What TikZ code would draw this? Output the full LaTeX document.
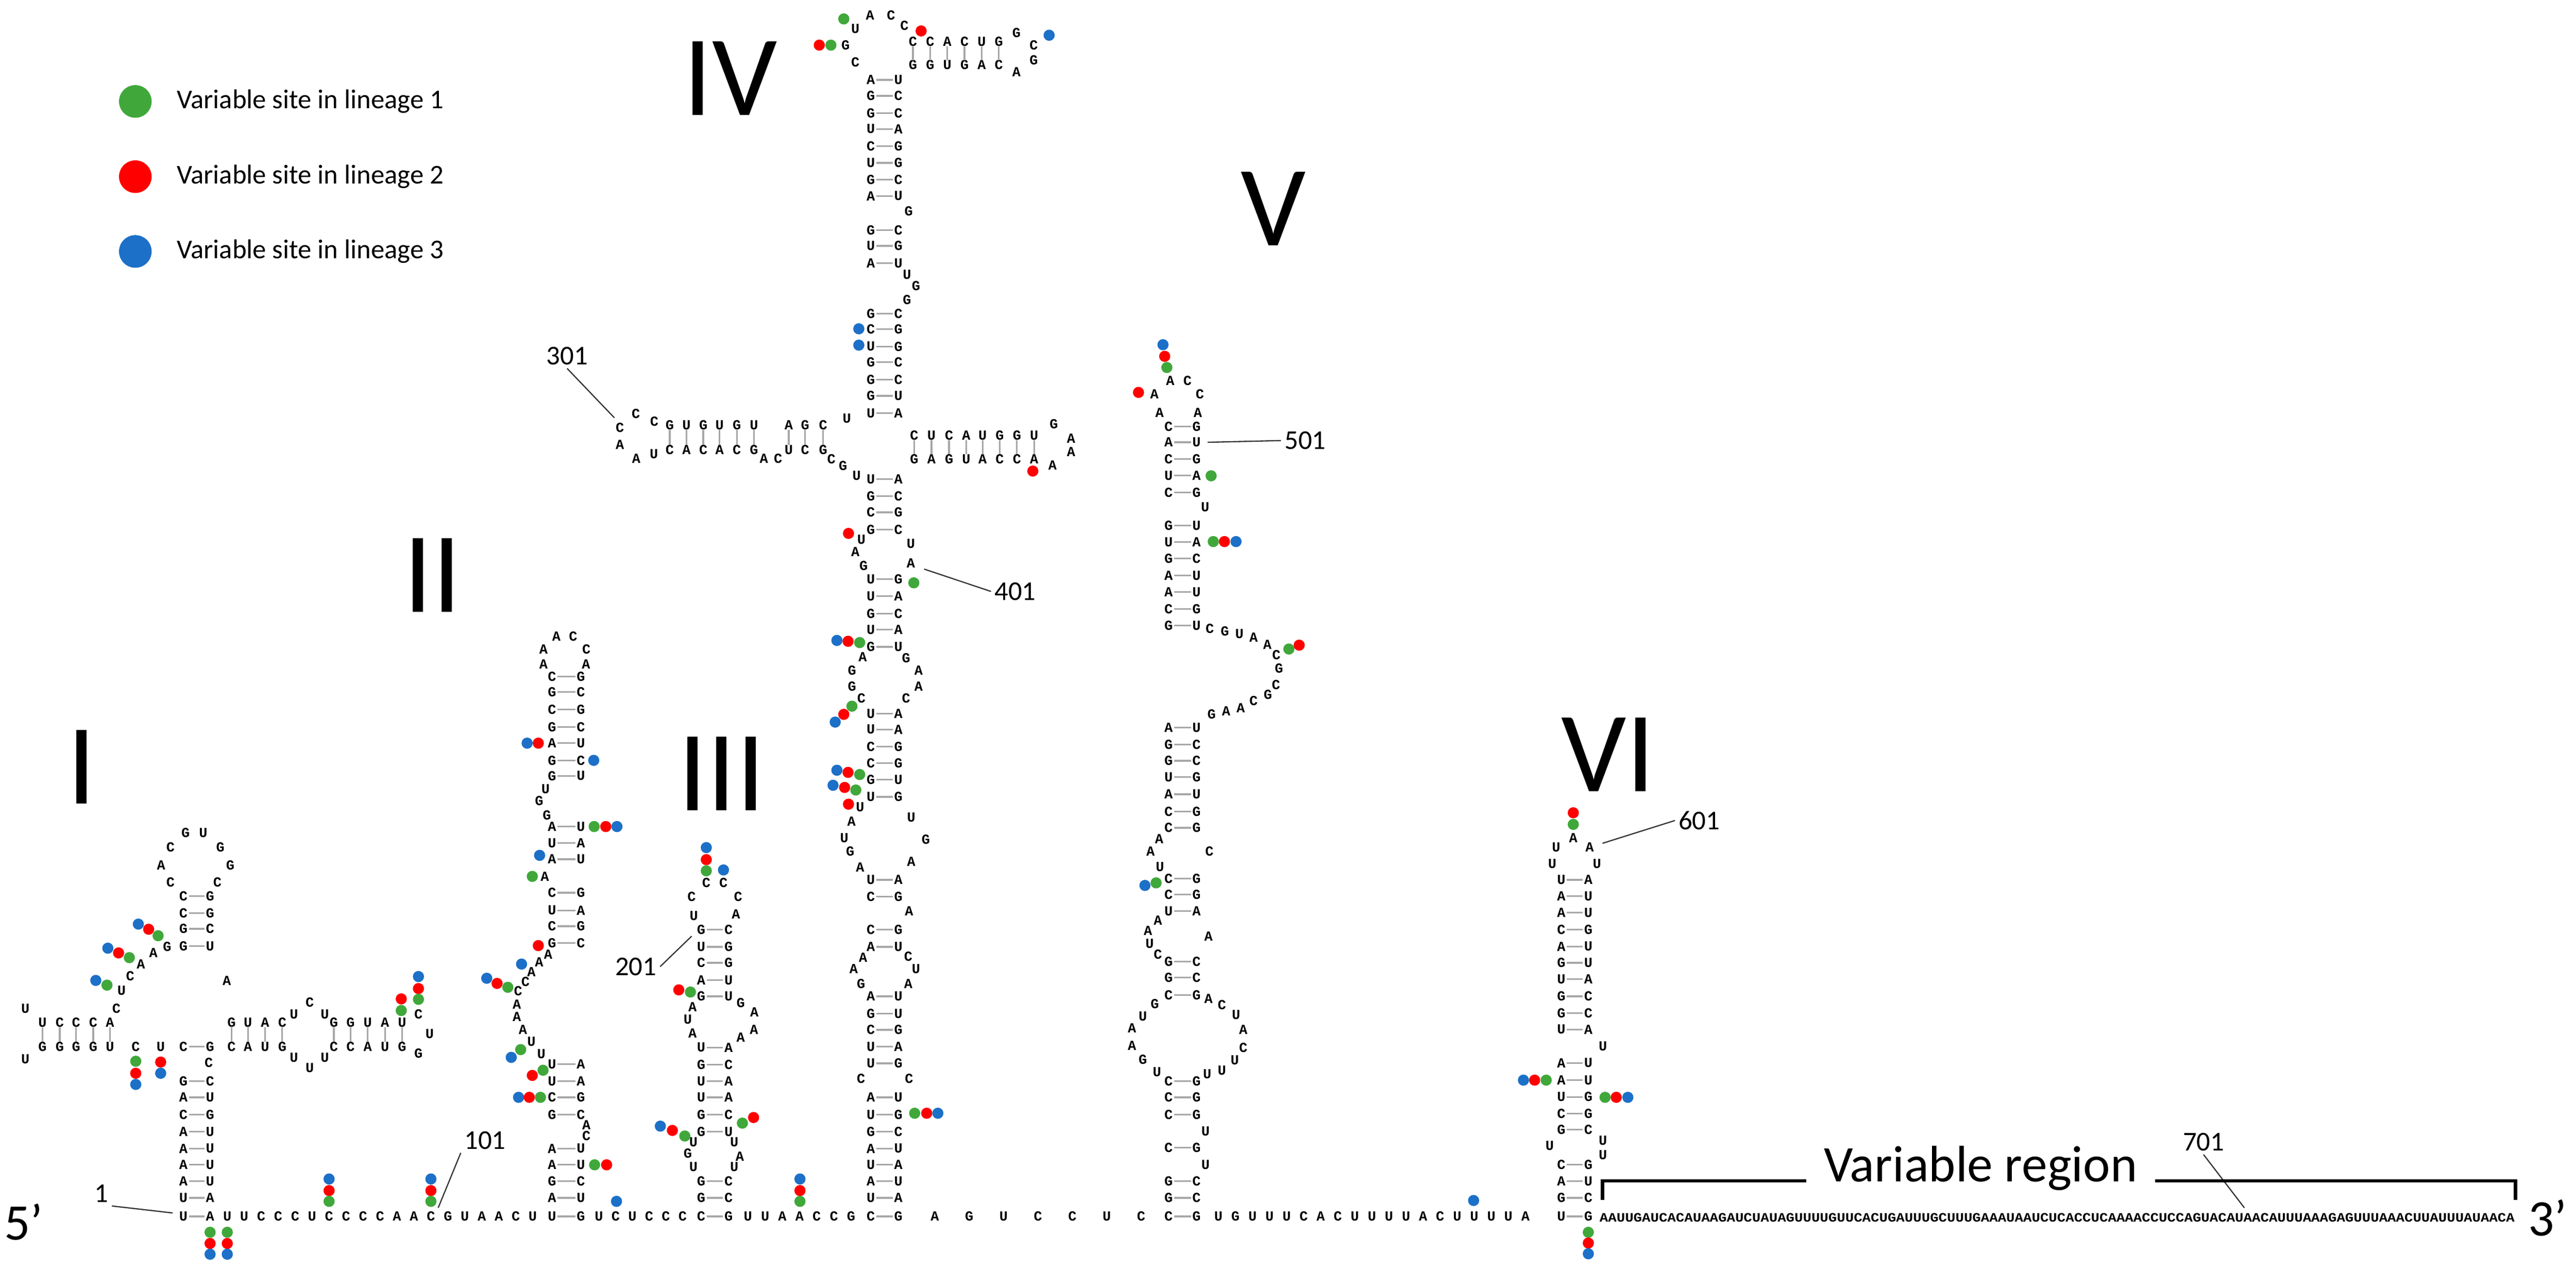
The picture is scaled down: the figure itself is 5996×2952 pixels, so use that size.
\documentclass[tikz,border=0pt]{standalone}
\usepackage{fontspec}
\setmainfont{Carlito}
\newfontfamily\ntfont{Liberation Mono}
\definecolor{vgreen}{RGB}{64,168,58}
\definecolor{vred}{RGB}{255,0,0}
\definecolor{vblue}{RGB}{28,112,200}
% base pair in a stem, left/right letters with a dash
\newcommand\bp[5]{\node[nt] at (#1,#3) {#4}; \node[nt] at (#2,#3) {#5};
  \draw[pr] ({#1+13},#3) -- ({#2-13},#3);}
% base pair in a side branch, top/bottom letters with a bar
\newcommand\vp[5]{\node[nt] at (#1,#2) {#4}; \node[nt] at (#1,#3) {#5};
  \draw[pr] (#1,{#2+11}) -- (#1,{#3-11});}
% run of unpaired letters on the backbone
\newcommand\run[4]{\foreach \l [count=\i from 0] in {#4} {\node[nt] at ({#1+#2*\i},#3) {\l};}}
\begin{document}
\begin{tikzpicture}[
    x=0.005cm, y=-0.005cm,
    nt/.style={font=\ntfont\bfseries\fontsize{4.6}{4.6}\selectfont, inner sep=0pt},
    pr/.style={draw=gray!70, line width=0.55pt},
    lbl/.style={font=\fontsize{9}{10}\selectfont, inner sep=1pt},
    lead/.style={draw=black!80, line width=0.4pt},
    numeral/.style={font=\fontsize{38}{38}\selectfont, inner sep=0pt},
    legtext/.style={font=\fontsize{9}{10}\selectfont, anchor=west, inner sep=0pt},
    big/.style={font=\fontsize{17}{17}\selectfont, inner sep=0pt}
  ]
  \useasboundingbox (0,0) rectangle (5996,2952);

  % --- legend ---
  \fill[vgreen] (315,236) circle[radius=0.19cm];
  \fill[vred] (315,411) circle[radius=0.19cm];
  \fill[vblue] (315,585) circle[radius=0.19cm];
  \node[legtext] (leg1) at (410,236) {Variable site in lineage 1};
  \node[legtext] (leg2) at (410,411) {Variable site in lineage 2};
  \node[legtext] (leg3) at (410,585) {Variable site in lineage 3};

  % --- domain numerals ---
  \node[numeral] (dI) at (190,1785) {I};
  \node[numeral] (dII) at (1007,1338) {II};
  \node[numeral] (dIII) at (1680,1800) {III};
  \node[numeral] (dIV) at (1700,182) {IV};
  \node[numeral] (dV) at (2964,486) {V};
  \node[numeral] (dVI) at (3743,1756) {VI};

  % --- backbone ---
  \run{529}{39.5}{2830}{U,U,C,C,C,U,C,C,C,C,A,A,C,G,U,A,A,C,U}
  \run{1394}{39}{2830}{U,C,U,C,C,C}
  \run{1741}{40}{2830}{U,U,A,A,C,C,G}
  \run{2176}{80}{2830}{A,G,U,C,C,U,C}
  \run{2836}{39.7}{2830}{U,G,U,U,U,C,A,C,U,U,U,U,A,C,U,U,U,U,A}
  \node[anchor=west, inner sep=0pt] (vseq) at (3722,2833)
    {\resizebox{10.66cm}{0.1cm}{\ntfont\bfseries AAUUGAUCACAUAAGAUCUAUAGUUUUGUUCACUGAUUUGCUUUGAAAUAAUCUCACCUCAAAACCUCCAGUACAUAACAUUUAAAGAGUUUAAACUUAUUUAUAACA}};
  \node[big] (p5) at (55,2843) {5’};
  \node[big] (p3) at (5930,2833) {3’};

  % --- domain I ---
  \foreach \y/\l/\r in {2830/U/A,2787/U/A,2748/A/U,2710/A/U,2672/A/U,2633/A/U,2593/C/G,2553/A/U,2515/G/C,2435/C/G,2201/G/U,2161/G/C,2124/C/G,2085/C/G}
    {\bp{427}{489}{\y}{\l}{\r}}
  \foreach \x/\t/\b in {99/U/G,139/C/G,177/C/G,217/C/G,256/A/U,539/G/C,577/U/A,617/A/U,657/C/G,777/G/C,816/G/C,856/U/A,896/A/U,936/U/G}
    {\vp{\x}{2379}{2435}{\t}{\b}}
  \foreach \x/\y/\l in {486/2472/C,316/2435/C,374/2435/U,59/2346/U,59/2464/U,271/2346/C,283/2305/U,303/2271/C,328/2243/A,357/2217/A,389/2203/G,
      397/2052/C,375/2013/A,397/1971/C,432/1937/G,473/1937/U,513/1971/G,536/2013/G,506/2052/C,528/2282/A,
      684/2360/U,721/2332/C,756/2360/U,684/2460/U,721/2485/U,756/2460/U,974/2360/C,1000/2405/U,974/2451/G}
    {\node[nt] at (\x,\y) {\l};}

  % --- domain II ---
  \foreach \y/\l/\r in {2830/U/G,2787/A/U,2748/G/C,2710/A/U,2672/A/U,2593/G/C,2553/C/G,2515/U/A,2476/U/A,
      2194/G/C,2155/C/G,2118/U/A,2077/C/G,1999/A/U,1961/U/A,1923/A/U,1805/G/U,1769/G/C,1729/A/U,1691/G/C,1651/C/G,1610/G/C,1574/C/G}
    {\bp{1285}{1352}{\y}{\l}{\r}}
  \foreach \x/\y/\l in {1365/2617/A,1365/2643/C,1268/2039/A,1273/1897/G,1255/1863/G,1270/1836/U,
      1265/1545/A,1265/1511/A,1295/1480/A,1334/1480/C,1365/1511/C,1364/1545/A,
      1276/2221/A,1255/2239/A,1237/2261/A,1223/2284/C,1206/2305/C,1203/2337/A,1203/2366/A,1217/2395/A,1237/2423/U,1260/2452/U}
    {\node[nt] at (\x,\y) {\l};}

  % --- domain III ---
  \foreach \y/\l/\r in {2830/C/G,2787/G/C,2748/G/C,2633/G/U,2593/G/C,2553/U/A,2515/U/A,2477/G/C,2437/U/A,2318/G/U,2280/A/U,2240/C/G,2203/U/G,2163/G/C}
    {\bp{1632}{1696}{\y}{\l}{\r}}
  \foreach \x/\y/\l in {1614/2657/U,1709/2657/U,1601/2683/G,1722/2690/A,1614/2715/U,1709/2715/U,
      1612/2343/A,1601/2372/U,1612/2404/A,1724/2333/G,1756/2355/A,1755/2395/A,1724/2414/A,
      1615/2131/U,1610/2086/C,1644/2054/C,1684/2054/C,1718/2086/C,1713/2127/A}
    {\node[nt] at (\x,\y) {\l};}

  % --- domain IV ---
  \foreach \y/\l/\r in {2830/C/G,2787/U/A,2748/A/U,2710/U/A,2672/A/U,2633/G/C,2593/U/G,2553/A/U,2474/U/G,2435/U/A,2396/C/G,2358/G/U,2318/A/U,
      2203/A/U,2163/C/G,2086/C/G,2047/U/A,1854/U/G,1814/G/U,1775/C/G,1737/C/G,1697/U/A,1660/U/A,
      1505/G/U,1465/U/A,1428/G/C,1387/U/A,1347/U/G,1232/G/C,1192/C/G,1154/G/C,1115/U/A,
      961/U/A,921/G/U,883/G/C,842/G/C,806/U/G,766/C/G,730/G/C,612/A/U,572/U/G,535/G/C,
      456/A/U,418/G/C,379/U/G,340/C/G,300/U/A,263/G/C,223/G/C,186/A/U}
    {\bp{2027}{2091}{\y}{\l}{\r}}
  \foreach \x/\t/\b in {1559/G/C,1598/U/A,1637/G/C,1675/U/A,1715/G/C,1755/U/G,1836/A/U,1874/G/C,1916/C/G}
    {\vp{\x}{989}{1046}{\t}{\b}}
  \foreach \x/\t/\b in {2128/C/G,2168/U/A,2209/C/G,2249/A/U,2287/U/A,2327/G/C,2367/G/C,2407/U/A}
    {\vp{\x}{1013}{1068}{\t}{\b}}
  \foreach \x/\t/\b in {2125/C/G,2165/C/G,2205/A/U,2245/C/G,2285/U/A,2325/G/C}
    {\vp{\x}{97}{151}{\t}{\b}}
  \foreach \x/\y/\l in {2004/2509/C,2116/2509/C,2009/2228/A,1987/2254/A,2004/2289/G,2114/2225/C,2132/2254/U,2114/2289/A,2116/2120/A,
      1982/1911/A,1965/1950/U,1979/1981/G,2002/2018/A,2121/1902/U,2155/1953/G,2121/2004/A,2002/1878/U,
      2008/1528/A,1983/1560/G,1983/1597/G,2005/1625/C,2109/1531/G,2138/1560/A,2138/1597/A,2109/1625/C,
      2005/1255/U,1991/1284/A,2010/1316/G,2120/1265/U,2120/1310/A,
      1935/1068/C,1962/1084/G,1994/1106/U,1971/974/U,1778/1067/A,1811/1067/C,
      1523/980/C,1480/963/C,1443/995/C,1443/1035/A,1481/1067/A,1522/1056/U,
      2453/986/G,2493/1020/A,2493/1051/A,2450/1083/A,
      2115/491/G,2111/639/U,2132/665/G,2111/697/G,
      1991/145/C,1968/105/G,1991/67/U,2025/36/A,2074/36/C,2105/60/C,2366/76/G,2406/105/C,2406/140/G,2366/168/A}
    {\node[nt] at (\x,\y) {\l};}

  % --- domain V ---
  \foreach \y/\l/\r in {2830/C/G,2787/G/C,2748/G/C,2670/C/G,2593/C/G,2553/C/G,2515/C/G,2315/C/G,2274/G/C,2237/G/C,2120/U/A,2081/C/G,2044/C/G,
      1926/C/G,1888/C/G,1848/A/U,1808/U/G,1770/G/C,1732/G/C,1693/A/U,
      1455/G/U,1417/C/G,1377/A/U,1339/A/U,1299/G/C,1261/U/A,1223/G/U,1146/C/G,1106/U/A,1068/C/G,1029/A/U,992/C/G}
    {\bp{2720}{2785}{\y}{\l}{\r}}
  \foreach \x/\y/\l in {2724/886/A,2764/886/C,2687/917/A,2793/917/C,2699/960/A,2788/960/A,2805/1180/U,
      2816/1462/C,2851/1468/G,2885/1475/U,2918/1483/A,2950/1500/A,2971/1524/C,2977/1555/G,2970/1593/C,2951/1616/G,2918/1630/C,2888/1647/A,2854/1654/A,2820/1662/G,
      2698/1952/A,2678/1981/A,2700/2017/U,2815/1981/C,2695/2141/A,2672/2165/A,2676/2195/U,2695/2221/C,2813/2179/A,
      2688/2336/G,2660/2364/U,2635/2392/A,2635/2433/A,2660/2465/G,2693/2494/U,
      2813/2324/A,2844/2338/C,2877/2361/U,2894/2396/A,2894/2438/C,2874/2466/U,2844/2491/U,2810/2499/U,
      2806/2632/U,2806/2710/U}
    {\node[nt] at (\x,\y) {\l};}

  % --- domain VI ---
  \foreach \y/\l/\r in {2830/U/G,2787/G/C,2748/A/U,2710/C/G,2628/G/C,2591/C/G,2552/U/G,2513/A/U,2473/A/U,
      2395/U/A,2357/G/C,2318/G/C,2278/U/A,2240/G/U,2202/A/U,2163/C/G,2123/A/U,2085/A/U,2047/U/A}
    {\bp{3634}{3697}{\y}{\l}{\r}}
  \foreach \x/\y/\l in {3662/1950/A,3622/1971/U,3700/1971/A,3613/2010/U,3717/2010/U,3731/2434/U,3607/2666/U,3731/2654/U,3731/2687/U}
    {\node[nt] at (\x,\y) {\l};}

  % --- variable sites ---
  \foreach \x/\y/\c in {322/2150/vblue,346/2162/vred,368/2177/vgreen,251/2206/vblue,276/2217/vred,301/2228/vgreen,223/2281/vblue,249/2292/vgreen,
      316/2469/vgreen,316/2497/vred,316/2523/vblue,374/2471/vred,374/2497/vblue,934/2324/vred,934/2351/vgreen,974/2272/vblue,974/2300/vred,974/2325/vgreen,
      489/2867/vgreen,489/2893/vred,489/2918/vblue,529/2867/vgreen,529/2893/vred,529/2918/vblue,
      766/2743/vblue,766/2770/vred,766/2795/vgreen,1003/2743/vblue,1003/2770/vred,1003/2795/vgreen,
      1862/2743/vblue,1862/2770/vred,1862/2795/vgreen,1435/2795/vblue,3430/2793/vblue,3697/2867/vgreen,3697/2892/vred,3697/2917/vblue,
      1227/1729/vblue,1253/1729/vred,1382/1769/vblue,1383/1923/vgreen,1410/1923/vred,1436/1923/vblue,1256/1990/vblue,1239/2039/vgreen,
      1253/2200/vred,1214/2243/vblue,1133/2276/vblue,1157/2288/vred,1182/2297/vgreen,1190/2460/vblue,1212/2442/vgreen,1239/2502/vred,1264/2490/vgreen,
      1207/2553/vblue,1232/2553/vred,1258/2553/vgreen,1384/2710/vgreen,1412/2710/vred,
      1644/1972/vblue,1644/2000/vred,1644/2026/vgreen,1684/2024/vblue,1580/2303/vred,1607/2308/vgreen,1537/2620/vblue,1565/2630/vred,1594/2643/vgreen,1728/2613/vgreen,1754/2600/vred,
      2129/2590/vgreen,2157/2590/vred,2183/2590/vblue,1975/1241/vred,2127/1356/vgreen,1948/1490/vblue,1974/1492/vred,2001/1495/vgreen,
      1983/1643/vgreen,1964/1662/vred,1944/1680/vblue,1948/1792/vblue,1974/1797/vred,2001/1802/vgreen,1939/1827/vblue,1966/1832/vred,1992/1838/vgreen,1975/1871/vred,
      2404/1096/vred,1999/765/vblue,1999/803/vblue,1964/44/vgreen,1907/105/vred,1934/105/vgreen,2144/72/vred,2442/82/vblue,
      2707/802/vblue,2711/829/vred,2716/855/vgreen,2650/913/vred,2819/1107/vgreen,2824/1260/vgreen,2850/1260/vred,2877/1260/vblue,3000/1510/vgreen,3024/1501/vred,2665/2060/vblue,2691/2054/vgreen,
      3662/1891/vred,3662/1918/vgreen,3546/2513/vblue,3572/2513/vred,3599/2513/vgreen,3736/2553/vgreen,3762/2553/vred,3789/2553/vblue}
    {\fill[\c] (\x,\y) circle[radius=0.065cm];}

  % --- position labels ---
  \node[lbl] (n1) at (236,2777) {1};
  \node[lbl] (n101) at (1129,2653) {101};
  \node[lbl] (n201) at (1480,2249) {201};
  \node[lbl] (n301) at (1320,828) {301};
  \node[lbl] (n401) at (2363,1376) {401};
  \node[lbl] (n501) at (3038,1025) {501};
  \node[lbl] (n601) at (3955,1909) {601};
  \node[lbl] (n701) at (5129,2657) {701};
  \coordinate (t1) at (402,2822);
  \coordinate (t101) at (1020,2810);
  \coordinate (t201) at (1610,2178);
  \coordinate (t301) at (1430,972);
  \coordinate (t401) at (2151,1324);
  \coordinate (t501) at (2811,1029);
  \coordinate (t601) at (3730,1962);
  \coordinate (t701) at (5224,2810);
  \draw[lead] (n1.south east) -- (t1);
  \draw[lead] (n101.south west) -- (t101);
  \draw[lead] (n201.east) -- (t201);
  \draw[lead] (n301.south) -- (t301);
  \draw[lead] (n401.west) -- (t401);
  \draw[lead] (n501.west) -- (t501);
  \draw[lead] (n601.west) -- (t601);
  \draw[lead] (n701.south) -- (t701);

  % --- variable region bracket ---
  \node[big, inner xsep=0.2cm] (vreg) at (4610,2718) {Variable region};
  \draw[line width=1.1pt] (3730,2792) -- (3730,2747) -- (vreg.west |- 0,2747);
  \draw[line width=1.1pt] (vreg.east |- 0,2747) -- (5855,2747) -- (5855,2792);
\end{tikzpicture}
\end{document}
